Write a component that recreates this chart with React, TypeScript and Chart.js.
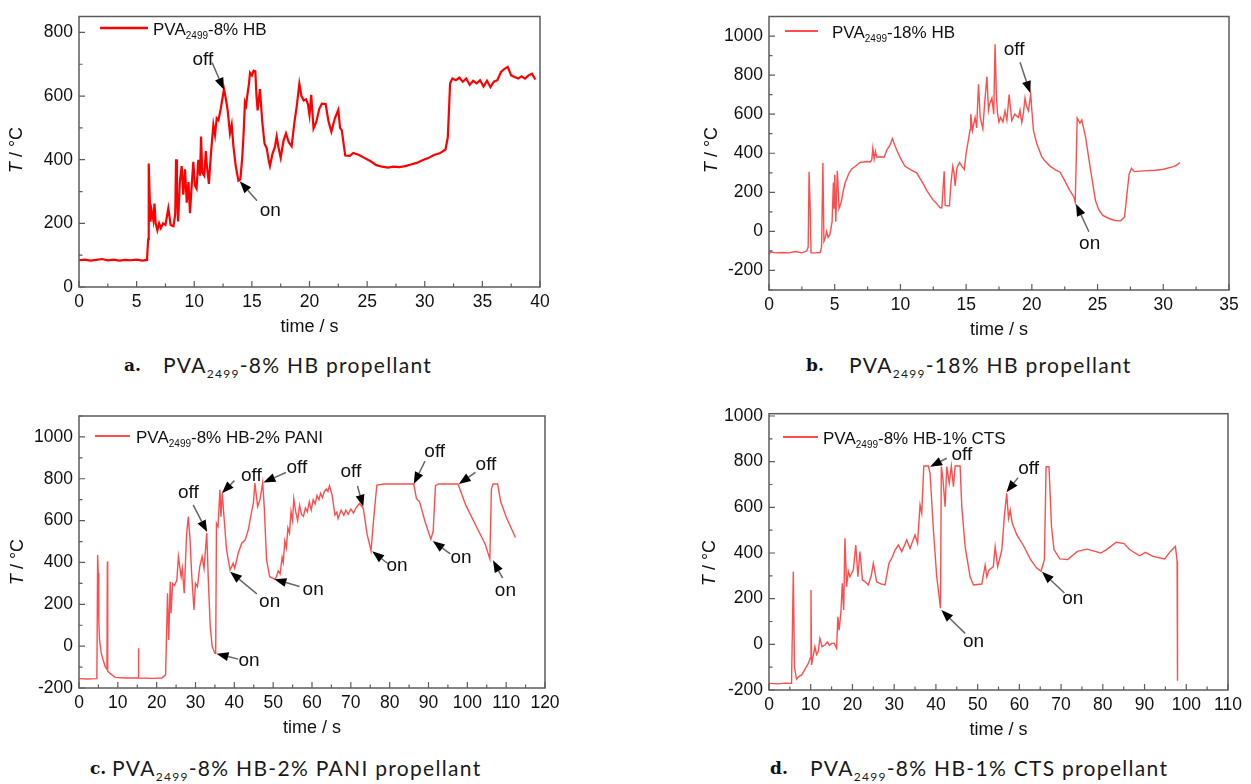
import React, { useEffect, useRef } from 'react';
import { Chart, registerables } from 'chart.js';
Chart.register(...registerables);

type Pt = [number, number];
type Note = { text: string; tx: number; ty: number; fx: number; fy: number; px: number; py: number };

// ---------- data (time / s, T / °C) ----------
const seriesA: Pt[] = [
  [0,84],[0.5,86],[1,83],[1.5,85],[2,88],[2.5,84],[3,86],[3.5,83],[4,85],[4.5,84],[5,86],[5.5,83],[5.9,85],
  [6.0,150],[6.05,388],[6.12,300],[6.2,205],[6.3,240],[6.45,210],[6.55,262],[6.65,200],[6.8,178],[6.95,200],
  [7.1,185],[7.3,200],[7.5,195],[7.75,247],[7.95,195],[8.2,191],[8.35,230],[8.42,401],[8.5,300],[8.6,206],
  [8.75,330],[8.91,380],[9.05,290],[9.2,370],[9.35,265],[9.5,330],[9.63,232],[9.8,330],[9.92,393],[10.05,320],
  [10.2,309],[10.35,400],[10.5,350],[10.59,473],[10.7,360],[10.87,350],[11.0,427],[11.1,380],[11.27,324],
  [11.45,420],[11.66,509],[11.8,478],[11.95,530],[12.1,524],[12.3,560],[12.58,622],[12.75,590],[12.9,555],
  [13.1,483],[13.25,510],[13.4,442],[13.6,380],[13.83,334],[14.0,338],[14.15,400],[14.27,473],[14.4,580],
  [14.5,570],[14.6,601],[14.75,640],[14.84,673],[15.0,665],[15.15,680],[15.3,678],[15.4,600],[15.5,555],
  [15.7,622],[15.9,520],[16.1,450],[16.28,437],[16.45,400],[16.57,380],[16.8,420],[17.0,440],[17.15,473],
  [17.3,440],[17.5,406],[17.75,460],[17.96,483],[18.2,455],[18.45,442],[18.7,520],[18.9,570],[19.12,639],
  [19.3,600],[19.5,586],[19.7,590],[19.86,575],[20.0,540],[20.15,604],[20.35,498],[20.6,520],[20.85,560],
  [21.07,576],[21.4,575],[21.65,520],[21.9,488],[22.2,530],[22.5,557],[22.65,500],[22.8,493],[23.1,413],
  [23.5,412],[23.8,421],[24.3,415],[24.8,405],[25.3,395],[25.8,383],[26.3,378],[26.8,375],[27.3,378],
  [27.8,377],[28.3,380],[28.8,385],[29.3,390],[29.8,398],[30.3,405],[30.8,415],[31.3,420],[31.8,432],
  [32.0,470],[32.2,640],[32.4,655],[32.7,650],[33.0,658],[33.3,645],[33.6,655],[33.9,635],[34.2,648],
  [34.5,640],[34.8,650],[35.1,630],[35.4,648],[35.7,628],[36.0,645],[36.3,650],[36.6,675],[36.9,685],
  [37.2,692],[37.5,665],[37.8,660],[38.1,655],[38.4,662],[38.7,655],[39.0,665],[39.3,670],[39.6,652]
];

const seriesB: Pt[] = [
  [0,-120],[0.1,-105],[0.5,-110],[1,-108],[1.5,-110],[2,-103],[2.5,-110],[2.87,-100],[2.98,-80],[3.05,305],
  [3.12,150],[3.2,-110],[3.5,-110],[3.9,-108],[4.0,-80],[4.1,350],[4.18,-50],[4.3,-30],[4.38,0],[4.5,-30],
  [4.63,-17],[4.8,50],[4.9,250],[4.95,120],[5.0,290],[5.08,50],[5.2,310],[5.33,117],[5.5,150],[5.65,208],
  [5.8,250],[5.9,267],[6.1,300],[6.29,320],[6.6,335],[6.93,353],[7.2,355],[7.44,358],[7.7,355],[7.82,367],
  [7.9,425],[8.0,370],[8.1,410],[8.2,380],[8.5,382],[8.76,380],[8.97,417],[9.2,440],[9.39,475],[9.55,445],
  [9.72,417],[10.0,375],[10.35,333],[10.8,315],[11.24,300],[11.5,270],[11.75,242],[12.0,210],[12.26,183],
  [12.5,160],[12.77,142],[13.0,122],[13.15,120],[13.33,308],[13.4,133],[13.73,130],[13.85,250],[13.98,333],
  [14.08,300],[14.16,233],[14.3,325],[14.5,353],[14.68,333],[14.86,317],[15.0,400],[15.17,467],[15.3,520],
  [15.35,600],[15.48,517],[15.68,583],[15.8,530],[15.94,753],[16.07,583],[16.27,525],[16.4,650],[16.58,792],
  [16.7,620],[16.78,650],[16.96,683],[17.1,600],[17.2,958],[17.3,700],[17.38,608],[17.5,560],[17.63,583],
  [17.8,560],[17.96,617],[18.1,570],[18.27,700],[18.47,567],[18.7,600],[18.98,583],[19.1,620],[19.23,558],
  [19.35,600],[19.48,683],[19.6,640],[19.74,617],[19.91,703],[20.0,620],[20.12,517],[20.37,450],[20.75,383],
  [21.0,360],[21.4,333],[21.8,315],[22.15,303],[22.5,260],[22.8,220],[23.2,175],[23.3,150],[23.45,580],
  [23.66,554],[23.8,571],[24.1,478],[24.4,343],[24.84,158],[25.1,110],[25.4,82],[25.87,66],[26.3,56],
  [26.75,54],[27.05,74],[27.4,293],[27.58,323],[27.8,306],[28.5,310],[29.4,313],[30.0,318],[30.7,330],
  [31.0,338],[31.27,353]
];

const seriesC: Pt[] = [
  [0,-155],[2,-157],[4.6,-155],[4.8,436],[4.95,350],[5.1,120],[5.3,30],[5.7,-30],[6.2,-66],[6.8,-100],[7.2,-110],
  [7.3,404],[7.4,-120],[8,-130],[9.3,-149],[11.9,-152],[15.2,-152],[15.3,-10],[15.4,-152],[19,-154],[21.3,-152],
  [22.3,-137],[22.8,253],[23.1,30],[23.5,308],[23.7,157],[24.1,300],[24.6,290],[25.2,316],[25.6,428],[26.3,332],
  [26.6,372],[27.1,253],[27.7,532],[28.15,619],[28.6,508],[29.0,348],[29.6,173],[30.0,300],[30.5,284],[31.1,380],
  [31.7,428],[32.2,372],[32.9,540],[33.3,316],[33.8,93],[34.3,-2],[35.0,-34],[35.2,-34],[35.4,587],[35.8,572],
  [36.3,747],[36.55,619],[36.9,731],[37.4,603],[38.0,460],[38.9,364],[39.7,396],[40.1,372],[41.0,444],[41.9,492],
  [42.8,508],[43.6,556],[44.3,628],[44.9,683],[45.3,779],[46.0,667],[46.6,699],[47.3,782],[47.7,667],[48.3,412],
  [49.1,332],[50.4,320],[50.8,330],[51.3,360],[51.8,345],[52.3,425],[52.6,400],[53,503],[53.4,470],[53.8,565],
  [54.2,540],[54.6,643],[55,600],[55.3,705],[55.8,643],[56.3,600],[56.8,674],[57.3,630],[57.8,620],[58.3,660],
  [58.8,643],[59.3,690],[59.8,650],[60.3,700],[60.8,680],[61.3,720],[61.8,700],[62.2,730],[62.7,710],[63.2,740],
  [63.7,751],[64.1,740],[64.5,767],[65.2,720],[65.9,627],[66.4,640],[66.7,610],[67.5,650],[68.2,625],[68.7,650],
  [69.3,630],[70,655],[70.7,636],[71.3,660],[72.2,682],[73.2,659],[74.2,534],[75.2,456],[75.9,612],[76.7,770],
  [78.7,775],[86.2,775],[86.9,705],[87.7,690],[89.1,596],[90.6,511],[91.2,549],[91.8,767],[92.6,775],[97.6,775],
  [99.6,674],[102.1,580],[104.6,487],[105.8,417],[106.2,751],[106.6,775],[107.8,775],[108.6,690],[110.1,612],
  [112.4,519]
];

const seriesD: Pt[] = [
  [0,-171],[2,-173],[4,-170],[5.4,-171],[5.83,318],[6.1,-100],[6.6,-153],[7.2,-140],[7.83,-134],[8.6,-110],
  [9.43,-83],[9.9,-60],[10.06,238],[10.2,-90],[11.0,-10],[11.4,-45],[11.8,-32],[12.2,26],[12.7,-10],[13.4,-3],
  [14.0,10],[14.5,-5],[15.0,4],[15.6,5],[16.2,-18],[16.5,121],[16.8,62],[17.25,143],[17.57,267],[17.9,150],
  [18.2,464],[18.6,252],[19.0,320],[19.4,296],[20.2,325],[20.8,435],[21.3,296],[21.8,406],[22.4,281],[23.0,275],
  [23.8,260],[24.5,300],[25.0,355],[25.8,274],[26.8,265],[27.8,260],[28.75,355],[29.5,380],[30.2,413],[31.0,435],
  [31.8,406],[32.4,430],[33.0,457],[33.8,420],[34.4,450],[35.0,479],[35.6,442],[36.2,610],[36.6,574],[37.1,781],
  [38.2,781],[38.6,749],[39.4,502],[40.2,296],[41.1,158],[41.3,778],[41.7,720],[42.2,603],[42.6,778],[43.2,706],
  [43.7,781],[44.2,690],[44.6,781],[45.8,781],[46.2,603],[47.0,428],[48.2,296],[49.0,260],[51.0,264],[51.8,347],
  [52.2,296],[52.7,325],[53.75,340],[54.2,428],[54.8,340],[55.8,413],[56.4,559],[56.96,661],[57.4,552],[57.8,588],
  [58.3,530],[59.4,479],[60.9,435],[62.7,371],[64.1,335],[65.2,320],[66.0,371],[66.4,778],[67.1,778],[67.7,516],
  [68.3,415],[69.7,374],[71.6,371],[73.9,407],[76.2,417],[78.1,407],[79.5,400],[80.9,415],[83.2,447],[85.1,441],
  [86.4,415],[88.8,388],[90.2,403],[92,385],[94.8,374],[96.2,407],[97.4,429],[97.8,364],[97.9,-160]
];

// annotation labels: text anchor (tx,ty), arrow from (fx,fy) to tip (px,py), all in data units
const notesA: Note[] = [
  { text: 'off', tx: 10.75, ty: 715, fx: 11.55, fy: 705, px: 12.58, py: 620 },
  { text: 'on', tx: 16.6, ty: 240, fx: 15.45, fy: 271, px: 13.95, py: 332 },
];
const notesB: Note[] = [
  { text: 'off', tx: 18.65, ty: 930, fx: 19.1, fy: 866, px: 19.88, py: 708 },
  { text: 'on', tx: 24.4, ty: -61, fx: 24.34, fy: -2, px: 23.36, py: 140 },
];
const notesC: Note[] = [
  { text: 'off', tx: 28.15, ty: 731, fx: 29.4, fy: 675, px: 33.0, py: 545 },
  { text: 'on', tx: 43.8, ty: -68, fx: 41.0, fy: -62, px: 35.4, py: -36 },
  { text: 'off', tx: 44.4, ty: 812, fx: 40.0, fy: 791, px: 36.8, py: 731 },
  { text: 'on', tx: 49.1, ty: 211, fx: 45.8, fy: 250, px: 38.9, py: 356 },
  { text: 'off', tx: 56.1, ty: 853, fx: 53.3, fy: 830, px: 47.5, py: 782 },
  { text: 'on', tx: 60.3, ty: 270, fx: 56.8, fy: 285, px: 50.3, py: 320 },
  { text: 'off', tx: 70.0, ty: 833, fx: 71.7, fy: 766, px: 73.2, py: 666 },
  { text: 'on', tx: 81.9, ty: 384, fx: 79.5, fy: 395, px: 75.5, py: 453 },
  { text: 'off', tx: 91.6, ty: 931, fx: 89.1, fy: 884, px: 86.2, py: 775 },
  { text: 'on', tx: 98.4, ty: 422, fx: 95.6, fy: 441, px: 91.1, py: 503 },
  { text: 'off', tx: 104.8, ty: 869, fx: 102.1, fy: 830, px: 97.8, py: 775 },
  { text: 'on', tx: 109.8, ty: 267, fx: 109.1, fy: 325, px: 106.6, py: 410 },
];
const notesD: Note[] = [
  { text: 'off', tx: 46.2, ty: 828, fx: 42.6, fy: 815, px: 38.6, py: 778 },
  { text: 'on', tx: 49.0, ty: 11, fx: 47.0, fy: 48, px: 41.3, py: 150 },
  { text: 'off', tx: 62.2, ty: 771, fx: 59.7, fy: 730, px: 56.9, py: 666 },
  { text: 'on', tx: 72.8, ty: 199, fx: 70.8, fy: 225, px: 65.4, py: 318 },
];

const legendRests = ['-8% HB', '-18% HB', '-8% HB-2% PANI', '-8% HB-1% CTS'];
const captionTexts = ['-8% HB propellant', '-18% HB propellant', '-8% HB-2% PANI propellant', '-8% HB-1% CTS propellant'];
const captionLetters = ['a.', 'b.', 'c.', 'd.'];

// ---------- layout ----------
const FONT = "'Liberation Sans', Arial, Helvetica, sans-serif";

interface Panel {
  data: Pt[];
  notes: Note[];
  legendRest: string;
  color: string;
  lw: number;
  x: [number, number, number]; // min max step
  y: [number, number, number];
  box: { left: number; top: number; width: number; height: number };
  area: { left: number; top: number; right: number; bottom: number };
  legend: { x0: number; x1: number; y: number; tx: number };
  yTitle: { x: number; y: number };
}

const panels: Panel[] = [
  {
    data: seriesA, notes: notesA, legendRest: legendRests[0], color: '#ff0000', lw: 2.2,
    x: [0, 40, 5], y: [0, 850, 200],
    box: { left: 0, top: 0, width: 625, height: 345 },
    area: { left: 79, top: 10.75, right: 540, bottom: 287 },
    legend: { x0: 100, x1: 148, y: 28, tx: 153 },
    yTitle: { x: 17, y: 150 },
  },
  {
    data: seriesB, notes: notesB, legendRest: legendRests[1], color: '#ff4d4d', lw: 1.4,
    x: [0, 35, 5], y: [-300, 1100, 200],
    box: { left: 640, top: 0, width: 611, height: 345 },
    area: { left: 769, top: 10, right: 1229, bottom: 290 },
    legend: { x0: 785, x1: 818, y: 31, tx: 832 },
    yTitle: { x: 712, y: 150 },
  },
  {
    data: seriesC, notes: notesC, legendRest: legendRests[2], color: '#ff4d4d', lw: 1.4,
    x: [0, 120, 10], y: [-200, 1100, 200],
    box: { left: 0, top: 395, width: 625, height: 350 },
    area: { left: 79, top: 416, right: 545, bottom: 688 },
    legend: { x0: 95, x1: 130, y: 436, tx: 136 },
    yTitle: { x: 18, y: 562 },
  },
  {
    data: seriesD, notes: notesD, legendRest: legendRests[3], color: '#ff4d4d', lw: 1.4,
    x: [0, 110, 10], y: [-200, 1010, 200],
    box: { left: 640, top: 395, width: 611, height: 350 },
    area: { left: 769, top: 413.7, right: 1228, bottom: 690 },
    legend: { x0: 783, x1: 818, y: 437, tx: 823 },
    yTitle: { x: 710, y: 563 },
  },
];

const captions = [
  { lx: 124, bx: 163, y: 365 },
  { lx: 806, bx: 849, y: 365 },
  { lx: 90, bx: 112, y: 768 },
  { lx: 770, bx: 810, y: 768 },
];

function stepTicks(min: number, max: number, step: number) {
  const out: { value: number }[] = [];
  for (let v = Math.ceil(min / step - 1e-9) * step; v <= max + 1e-9; v += step) out.push({ value: Math.round(v * 1e6) / 1e6 });
  return out;
}

function decor(p: Panel) {
  return {
    id: 'decor',
    afterDraw(chart: any) {
      const ctx: CanvasRenderingContext2D = chart.ctx;
      const xs = chart.scales.x;
      const ys = chart.scales.y;
      const a = chart.chartArea;
      ctx.save();
      // frame
      ctx.strokeStyle = '#5c5c5c';
      ctx.lineWidth = 1.5;
      ctx.strokeRect(a.left, a.top, a.right - a.left, a.bottom - a.top);
      // inward ticks (major + minor)
      ctx.lineWidth = 1.2;
      ctx.beginPath();
      for (const t of stepTicks(p.x[0], p.x[1], p.x[2] / 2)) {
        const px = xs.getPixelForValue(t.value);
        const major = Math.abs(t.value / p.x[2] - Math.round(t.value / p.x[2])) < 1e-6;
        ctx.moveTo(px, a.bottom);
        ctx.lineTo(px, a.bottom - (major ? 6 : 3.5));
      }
      for (const t of stepTicks(p.y[0], p.y[1], p.y[2] / 2)) {
        const py = ys.getPixelForValue(t.value);
        const major = Math.abs(t.value / p.y[2] - Math.round(t.value / p.y[2])) < 1e-6;
        ctx.moveTo(a.left, py);
        ctx.lineTo(a.left + (major ? 6 : 3.5), py);
      }
      ctx.stroke();

      const L = p.box.left, T = p.box.top;
      // legend
      ctx.strokeStyle = p.color;
      ctx.lineWidth = p.lw + 0.4;
      ctx.beginPath();
      ctx.moveTo(p.legend.x0 - L, p.legend.y - T);
      ctx.lineTo(p.legend.x1 - L, p.legend.y - T);
      ctx.stroke();
      ctx.fillStyle = '#111';
      ctx.textBaseline = 'alphabetic';
      ctx.textAlign = 'left';
      let tx = p.legend.tx - L;
      const ty = p.legend.y - T + 7;
      ctx.font = `17px ${FONT}`;
      ctx.fillText('PVA', tx, ty);
      tx += ctx.measureText('PVA').width;
      ctx.font = `10px ${FONT}`;
      ctx.fillText('2499', tx, ty + 4);
      tx += ctx.measureText('2499').width;
      ctx.font = `17px ${FONT}`;
      ctx.fillText(p.legendRest, tx, ty);

      // y title
      ctx.save();
      ctx.translate(p.yTitle.x - L, p.yTitle.y - T);
      ctx.rotate(-Math.PI / 2);
      ctx.textBaseline = 'middle';
      ctx.font = `italic 18px ${FONT}`;
      const wT = ctx.measureText('T').width;
      ctx.font = `18px ${FONT}`;
      const rest = ' / \u00B0C';
      const wR = ctx.measureText(rest).width;
      let sx = -(wT + wR) / 2;
      ctx.font = `italic 18px ${FONT}`;
      ctx.fillText('T', sx, 0);
      sx += wT;
      ctx.font = `18px ${FONT}`;
      ctx.fillText(rest, sx, 0);
      ctx.restore();

      // x title
      ctx.font = `18px ${FONT}`;
      ctx.textAlign = 'center';
      ctx.textBaseline = 'middle';
      ctx.fillText('time / s', (a.left + a.right) / 2, a.bottom + 40);

      // annotations
      for (const n of p.notes) {
        const fx = xs.getPixelForValue(n.fx), fy = ys.getPixelForValue(n.fy);
        const qx = xs.getPixelForValue(n.px), qy = ys.getPixelForValue(n.py);
        const ang = Math.atan2(qy - fy, qx - fx);
        const hl = 12, hw = 4.5;
        const bx = qx - hl * Math.cos(ang), by = qy - hl * Math.sin(ang);
        ctx.strokeStyle = '#666';
        ctx.lineWidth = 1.5;
        ctx.beginPath();
        ctx.moveTo(fx, fy);
        ctx.lineTo(bx, by);
        ctx.stroke();
        ctx.fillStyle = '#000';
        ctx.beginPath();
        ctx.moveTo(qx, qy);
        ctx.lineTo(bx + hw * Math.sin(ang), by - hw * Math.cos(ang));
        ctx.lineTo(bx - hw * Math.sin(ang), by + hw * Math.cos(ang));
        ctx.closePath();
        ctx.fill();
        ctx.fillStyle = '#111';
        ctx.font = `19px ${FONT}`;
        ctx.textAlign = 'center';
        ctx.textBaseline = 'middle';
        ctx.fillText(n.text, xs.getPixelForValue(n.tx), ys.getPixelForValue(n.ty));
      }
      ctx.restore();
    },
  };
}

function PanelChart({ p }: { p: Panel }) {
  const ref = useRef<HTMLCanvasElement>(null);
  useEffect(() => {
    const canvas = ref.current!;
    const xAxisH = p.box.top + p.box.height - p.area.bottom;
    const yAxisW = p.area.left - p.box.left;
    const chart = new Chart(canvas, {
      type: 'scatter',
      data: {
        datasets: [{
          data: p.data.map(([x, y]) => ({ x, y })),
          showLine: true,
          borderColor: p.color,
          borderWidth: p.lw,
          pointRadius: 0,
          tension: 0,
          fill: false,
        }],
      },
      options: {
        animation: false,
        responsive: false,
        maintainAspectRatio: false,
        devicePixelRatio: 1,
        layout: {
          padding: {
            left: 0,
            top: p.area.top - p.box.top,
            right: p.box.left + p.box.width - p.area.right,
            bottom: 0,
          },
        },
        plugins: { legend: { display: false }, tooltip: { enabled: false } },
        scales: {
          x: {
            type: 'linear',
            min: p.x[0], max: p.x[1],
            grid: { display: false, drawTicks: false },
            border: { display: false },
            ticks: {
              padding: 5, color: '#111',
              font: { family: FONT, size: 17.5 }, maxRotation: 0, autoSkip: false,
              callback: (v: any) => String(v),
            },
            afterBuildTicks: (s: any) => { s.ticks = stepTicks(p.x[0], p.x[1], p.x[2]); },
            afterFit: (s: any) => { s.height = xAxisH; },
          },
          y: {
            type: 'linear',
            min: p.y[0], max: p.y[1],
            grid: { display: false, drawTicks: false },
            border: { display: false },
            ticks: {
              padding: 6, color: '#111',
              font: { family: FONT, size: 17.5 }, autoSkip: false,
              callback: (v: any) => String(v),
            },
            afterBuildTicks: (s: any) => { s.ticks = stepTicks(p.y[0], p.y[1], p.y[2]); },
            afterFit: (s: any) => { s.width = yAxisW; },
          },
        },
      } as any,
      plugins: [decor(p)],
    });
    return () => chart.destroy();
  }, []);
  return (
    <canvas
      ref={ref}
      width={p.box.width}
      height={p.box.height}
      style={{ position: 'absolute', left: p.box.left, top: p.box.top, width: p.box.width, height: p.box.height }}
    />
  );
}

export default function App() {
  return (
    <div style={{ position: 'absolute', left: 0, top: 0, width: 1251, height: 784, background: '#fff', overflow: 'hidden' }}>
      {panels.map((p, i) => <PanelChart key={i} p={p} />)}
      {captions.map((c, i) => (
        <React.Fragment key={'c' + i}>
          <div style={{ position: 'absolute', left: c.lx, top: c.y - 12, lineHeight: '24px', fontFamily: "'DejaVu Serif', 'Liberation Serif', serif", fontWeight: 'bold', fontSize: 17, color: '#111' }}>
            {captionLetters[i]}
          </div>
          <div style={{ position: 'absolute', left: c.bx, top: c.y - 12, lineHeight: '24px', fontFamily: "Lato, 'Open Sans', sans-serif", fontWeight: 400, fontSize: 21, letterSpacing: '1.3px', color: '#1a1a1a', whiteSpace: 'nowrap' }}>
            PVA<span style={{ fontSize: 12, position: 'relative', top: 5 }}>2499</span>{captionTexts[i]}
          </div>
        </React.Fragment>
      ))}
    </div>
  );
}
